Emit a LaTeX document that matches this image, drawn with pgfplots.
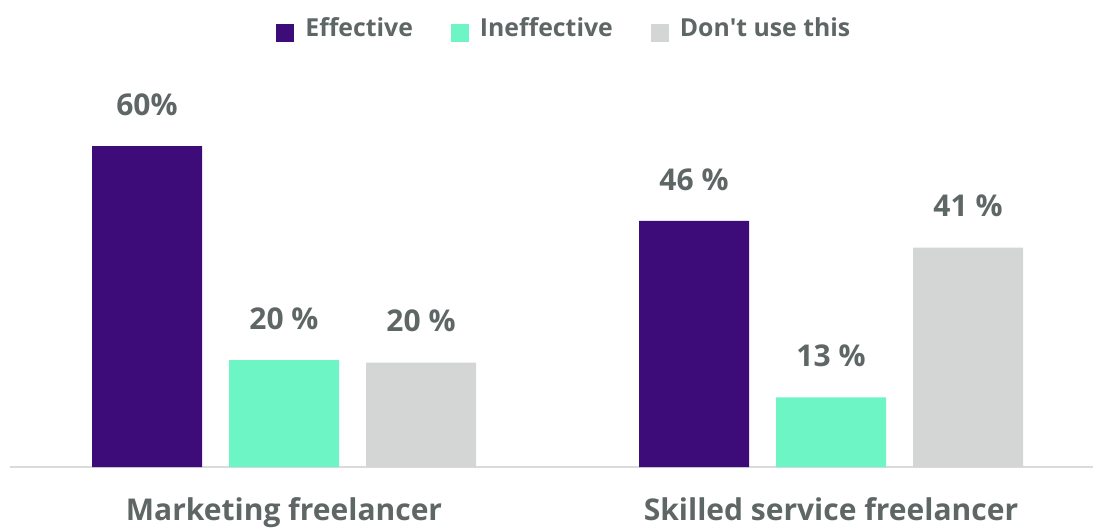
\documentclass[border=0pt]{standalone}
\usepackage{fontspec}
\setmainfont{Open Sans}
\usepackage{pgfplots}
\pgfplotsset{compat=1.18}
\definecolor{cPurple}{HTML}{3D0C78}
\definecolor{cMint}{HTML}{6EF5C5}
\definecolor{cGray}{HTML}{D3D6D5}
\definecolor{cText}{HTML}{5F6766}
\definecolor{cAxis}{HTML}{D9DCDB}
\begin{document}
\begin{tikzpicture}
\begin{axis}[
  name=ax,
  width=546.5pt, height=263.5pt, scale only axis,
  xmin=0, xmax=1093, ymin=-11.215, ymax=87.29,
  hide axis, clip=false,
  bar width=55pt,
  point meta=explicit symbolic,
  nodes near coords,
  every node near coord/.append style={font=\fontsize{15}{18}\selectfont\bfseries, text=cText, anchor=south, inner sep=0pt, yshift=15pt},
  legend columns=3,
  legend style={draw=none, fill=none, inner sep=0pt,
    at={(axis cs:276,84.1)}, anchor=north west,
    font=\fontsize{12.4}{15}\selectfont\bfseries, text=cText,
    nodes={inner sep=0pt, anchor=base west},
    /tikz/every odd column/.append style={column sep=5.5pt},
    /tikz/every even column/.append style={column sep=19pt}},
  legend image code/.code={\fill[#1] (0pt,-3pt) rectangle (9pt,6pt);},
]
\draw[cAxis, line width=1pt] (axis cs:10,0) -- (axis cs:1093,0);
\addplot[ybar, bar width=55pt, fill=cPurple, draw=none] coordinates {(147,60) [60\%] (694,46) [46 \%]};
\addlegendentry{Effective}
\addplot[ybar, bar width=55pt, fill=cMint, draw=none] coordinates {(284,20) [20 \%] (831,13) [13 \%]};
\addlegendentry{Ineffective}
\addplot[ybar, bar width=55pt, fill=cGray, draw=none] coordinates {(421,19.5) [20 \%] (968,41) [41 \%]};
\addlegendentry{Don\textquotesingle t use this}
\node[anchor=base, font=\fontsize{15}{18}\selectfont\bfseries, text=cText] at (axis cs:284,-10.09) {Marketing freelancer};
\node[anchor=base, font=\fontsize{15}{18}\selectfont\bfseries, text=cText] at (axis cs:831,-10.09) {Skilled service freelancer};
\end{axis}
\pgfresetboundingbox
\path (ax.south west) rectangle (ax.north east);
\end{tikzpicture}
\end{document}
